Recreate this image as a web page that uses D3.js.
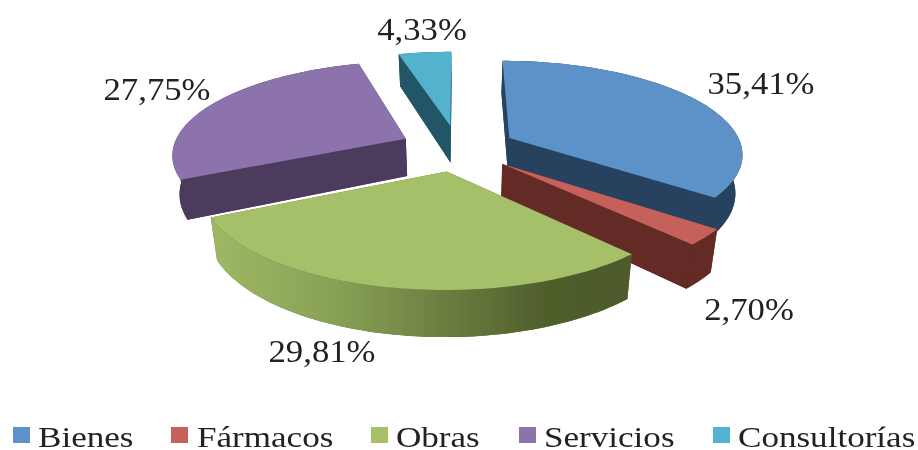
<!DOCTYPE html>
<meta charset="utf-8">
<style>
body { margin: 0; background: #fff; }
text { font-family: "Liberation Serif", serif; fill: #222; }
</style>
<body>
<script src="https://d3js.org/d3.v7.min.js"></script>
<script>
var categories = ["Bienes", "Fármacos", "Obras", "Servicios", "Consultorías"];
var values = [35.41, 2.70, 29.81, 27.75, 4.33];
var valueLabels = ["35,41%", "2,70%", "29,81%", "27,75%", "4,33%"];

var topColors = ["#5b92c7", "#c6605a", "#a6c06a", "#8c73ab", "#52b2cd"];
var sideColors = ["#26425f", "#632b28", "#586831", "#4b3a5c", "#245766"];

var width = 918, height = 450;
var cx = 458, cy = 148, rx = 233, ry = 92;
var explode = 0.25, depth = 38;
var persX = 0.155, persY = 0.155;

// label centre and baseline, legend swatch and text left
var labelPos = [[761, 94], [749, 320], [322, 362], [157, 100], [422, 40]];
var legendSwatch = [13, 171, 371, 519, 713];
var legendText = [38, 197, 396, 544, 738];

var svg = d3.select("body").append("svg")
    .attr("width", width)
    .attr("height", height)
    .style("display", "block");

var defs = svg.append("defs");
defs.append("filter").attr("id", "soft")
  .append("feGaussianBlur").attr("stdDeviation", 0.45);
defs.append("filter").attr("id", "softText")
  .append("feGaussianBlur").attr("stdDeviation", 0.6);

var grad = defs.append("linearGradient").attr("id", "obrasRim");
grad.selectAll("stop")
    .data([[0, "#9fb865"], [0.3, "#88a055"], [0.55, "#6c7f40"], [0.8, "#4f5e2c"], [1, "#4d5b2a"]])
  .enter().append("stop")
    .attr("offset", function(d) { return d[0]; })
    .attr("stop-color", function(d) { return d[1]; });

var x = d3.scaleLinear().domain([-1, 1]).range([cx - rx, cx + rx]);
var y = d3.scaleLinear().domain([-1, 1]).range([cy - ry, cy + ry]);

// ground plane to screen: u goes right, v towards the viewer
function project(u, v, bottom) {
  var s = 1 / (1 - persX * v);
  var px = x(u * s);
  var py = y(v / (1 - persY * v));
  if (bottom) {
    px = cx + (px - cx) * 0.975;
    py += depth * s;
  }
  return [px, py];
}

var pie = d3.pie().sort(null);
var arcs = pie(values);
var line = d3.line();

function slicePoints(d, bottom) {
  var mid = (d.startAngle + d.endAngle) / 2;
  var ou = explode * Math.sin(mid), ov = -explode * Math.cos(mid);
  var n = Math.max(4, Math.ceil((d.endAngle - d.startAngle) * 40));
  var rim = d3.range(n + 1).map(function(i) {
    var a = d.startAngle + (d.endAngle - d.startAngle) * i / n;
    return project(ou + Math.sin(a), ov - Math.cos(a), bottom);
  });
  return {apex: project(ou, ov, bottom), rim: rim};
}

var chart = svg.append("g").attr("filter", "url(#soft)");

// painted back to front
[4, 3, 0, 1, 2].forEach(function(i) {
  var d = arcs[i];
  var top = slicePoints(d, false), bot = slicePoints(d, true);
  var side = sideColors[i];
  var g = chart.append("g").attr("class", "slice");

  g.append("path")
      .attr("d", line([bot.apex].concat(bot.rim)) + "Z")
      .attr("fill", side);

  var last = top.rim.length - 1;
  var faces = [
    {pts: [top.apex, top.rim[0], bot.rim[0], bot.apex], fill: side},
    {pts: [top.apex, top.rim[last], bot.rim[last], bot.apex], fill: side},
    {pts: top.rim.concat(bot.rim.slice().reverse()), fill: i === 2 ? "url(#obrasRim)" : side}
  ];
  faces.sort(function(a, b) {
    return d3.mean(a.pts, function(p) { return p[1]; }) - d3.mean(b.pts, function(p) { return p[1]; });
  });
  faces.forEach(function(f) {
    g.append("path").attr("d", line(f.pts) + "Z").attr("fill", f.fill);
  });

  g.append("path")
      .attr("d", line([top.apex].concat(top.rim)) + "Z")
      .attr("fill", topColors[i]);
});

// the source image is stretched sideways, so the text is too
svg.append("g").attr("filter", "url(#softText)").selectAll("text")
    .data(valueLabels)
  .enter().append("text")
    .attr("transform", function(d, i) {
      return "translate(" + labelPos[i][0] + "," + labelPos[i][1] + ") scale(1.085,1)";
    })
    .attr("text-anchor", "middle")
    .attr("font-size", 32)
    .text(function(d) { return d; });

var legend = svg.append("g").attr("filter", "url(#softText)").selectAll("g")
    .data(categories)
  .enter().append("g");

legend.append("rect")
    .attr("x", function(d, i) { return legendSwatch[i]; })
    .attr("y", 427)
    .attr("width", 17)
    .attr("height", 16)
    .attr("fill", function(d, i) { return topColors[i]; });

legend.append("text")
    .attr("transform", function(d, i) { return "translate(" + legendText[i] + ",447) scale(1.17,1)"; })
    .attr("font-size", 30)
    .text(function(d) { return d; });
</script>
</body>
</html>
